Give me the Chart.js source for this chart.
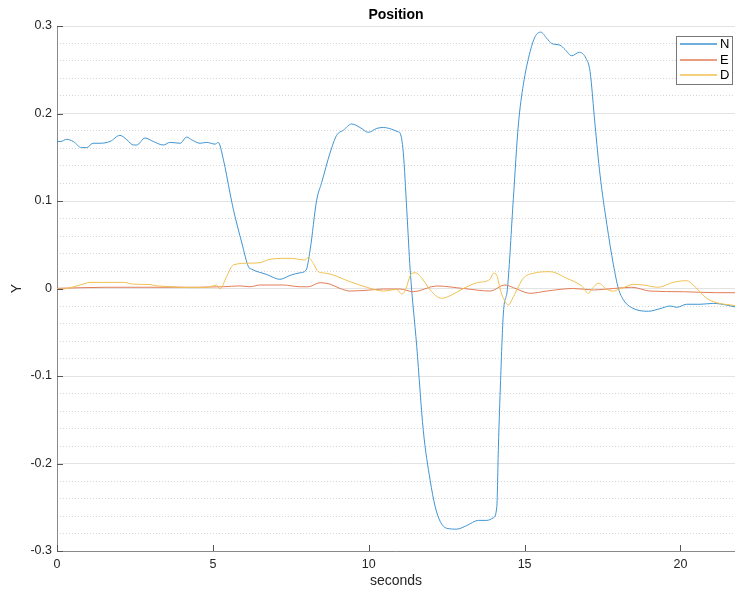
<!DOCTYPE html>
<html>
<head>
<meta charset="utf-8">
<script src="https://cdn.jsdelivr.net/npm/chart.js@4.4.0/dist/chart.umd.min.js"></script>
<style>
  html, body { margin: 0; padding: 0; background: #fff; }
</style>
</head>
<body>
<canvas id="myChart" width="735" height="591"></canvas>
<script>
// time axis (seconds) and position values
var nX = [0, 0.12, 0.31, 0.52, 0.79, 0.95, 1.16, 1.38, 1.70, 2.02, 2.24, 2.45, 2.56, 2.82, 3.09, 3.41, 3.63, 3.95, 4.16, 4.32, 4.59, 4.80, 5.07, 5.17, 5.34, 5.55, 5.66, 5.93, 6.14, 6.25, 6.73, 7.15, 7.48, 7.80, 7.99, 8.12, 8.33, 8.49, 8.76, 8.97, 9.19, 9.45, 9.72, 9.99, 10.26, 10.47, 10.74, 10.95, 11.0, 11.11, 11.22, 11.33, 11.54, 11.75, 11.97, 12.13, 12.29, 12.50, 12.82, 13.14, 13.52, 13.79, 14.0, 14.11, 14.16, 14.23, 14.32, 14.45, 14.64, 14.80, 14.96, 15.18, 15.34, 15.52, 15.71, 15.87, 16.14, 16.30, 16.51, 16.76, 16.97, 17.10, 17.26, 17.42, 17.64, 17.85, 18.01, 18.17, 18.44, 18.97, 19.35, 19.67, 19.88, 20.2, 20.63, 21.06, 21.49, 21.75];
var nY = [0.168, 0.168, 0.1705, 0.168, 0.161, 0.161, 0.166, 0.166, 0.168, 0.175, 0.170, 0.164, 0.164, 0.172, 0.168, 0.164, 0.167, 0.166, 0.173, 0.170, 0.166, 0.167, 0.165, 0.167, 0.147, 0.109, 0.090, 0.052, 0.025, 0.022, 0.016, 0.0105, 0.015, 0.018, 0.021, 0.044, 0.101, 0.121, 0.155, 0.175, 0.181, 0.188, 0.184, 0.1785, 0.183, 0.184, 0.182, 0.179, 0.178, 0.155, 0.090, 0.021, -0.066, -0.162, -0.219, -0.249, -0.266, -0.274, -0.275, -0.271, -0.265, -0.265, -0.262, -0.249, -0.181, -0.105, -0.028, 0.0, 0.103, 0.187, 0.233, 0.271, 0.288, 0.293, 0.286, 0.280, 0.278, 0.273, 0.266, 0.270, 0.263, 0.248, 0.187, 0.130, 0.073, 0.027, 0.0, -0.013, -0.022, -0.026, -0.023, -0.020, -0.0215, -0.018, -0.018, -0.017, -0.019, -0.021];

var eX = [0, 1.6, 3.73, 5.33, 5.87, 6.19, 6.51, 7.26, 7.80, 8.06, 8.44, 8.76, 9.08, 9.40, 9.94, 10.47, 11.0, 11.43, 12.18, 13.04, 13.89, 14.37, 14.64, 15.18, 15.71, 16.57, 17.21, 17.85, 18.44, 19.02, 20.09, 21.16, 21.75];
var eY = [0.0002, 0.0014, 0.0014, 0.002, 0.003, 0.002, 0.004, 0.004, 0.002, 0.002, 0.0066, 0.005, 0.0, -0.0029, -0.002, -0.0006, -0.0006, -0.0037, 0.0029, 0.0, -0.0029, 0.004, 0.001, -0.0055, -0.0029, 0.0, -0.0017, 0.0, 0.0014, -0.0029, -0.0037, -0.0048, -0.0048];

var dX = [0, 0.10, 0.31, 0.74, 1.06, 2.13, 2.45, 2.98, 3.2, 3.73, 4.27, 4.80, 5.01, 5.12, 5.23, 5.44, 5.66, 6.19, 6.51, 6.83, 7.48, 7.96, 8.06, 8.22, 8.38, 8.65, 9.40, 9.94, 10.47, 10.90, 11.06, 11.16, 11.38, 11.49, 11.75, 11.97, 12.34, 12.66, 13.04, 13.47, 13.89, 14.0, 14.11, 14.21, 14.32, 14.48, 14.64, 14.96, 15.28, 15.82, 16.35, 16.83, 17.05, 17.15, 17.37, 17.64, 17.85, 18.01, 18.17, 18.49, 18.81, 19.29, 19.77, 20.2, 20.41, 20.84, 21.16, 21.75];
var dY = [0.0, -0.001, 0.0, 0.004, 0.007, 0.007, 0.005, 0.0045, 0.003, 0.002, 0.001, 0.0014, 0.003, 0.004, -0.0005, 0.0135, 0.027, 0.029, 0.0295, 0.0334, 0.0345, 0.0326, 0.0357, 0.0288, 0.0192, 0.0174, 0.0078, 0.0014, -0.0029, -0.001, -0.0063, -0.003, 0.0174, 0.018, 0.0097, -0.0017, -0.0112, -0.0074, 0.0, 0.0066, 0.0105, 0.0174, 0.015, 0.0002, -0.0112, -0.0189, -0.0094, 0.0117, 0.0174, 0.0192, 0.0117, 0.0029, -0.0055, -0.001, 0.006, -0.001, -0.003, -0.001, 0.001, 0.0048, 0.004, 0.0014, 0.0071, 0.0089, 0.004, -0.0112, -0.0162, -0.0195];

var seriesNames = ['N', 'E', 'D'];
var xMax = 21.75;

function toPoints(xs, ys) {
  return xs.map(function(x, i){ return {x: x, y: ys[i]}; });
}

var FONT = '"Liberation Sans", Arial, sans-serif';

// matlab-ish inward tick marks + boxed legend
var matlabBits = {
  id: 'matlabBits',
  afterDraw: function(chart) {
    var ctx = chart.ctx, a = chart.chartArea;
    var xs = chart.scales.x, ys = chart.scales.y;
    ctx.save();
    ctx.strokeStyle = '#555';
    ctx.lineWidth = 1;
    ctx.beginPath();
    xs.ticks.forEach(function(t){
      var px = Math.round(xs.getPixelForValue(t.value)) + 0.5;
      ctx.moveTo(px, a.bottom);
      ctx.lineTo(px, a.bottom - 6);
    });
    ys.ticks.forEach(function(t){
      var py = Math.round(ys.getPixelForValue(t.value)) + 0.5;
      ctx.moveTo(a.left, py);
      ctx.lineTo(a.left + 6, py);
    });
    ctx.stroke();

    var bx = a.right - 59, by = a.top + 10, bw = 56, bh = 48;
    ctx.fillStyle = '#fff';
    ctx.fillRect(bx, by, bw, bh);
    ctx.strokeStyle = '#777';
    ctx.strokeRect(bx + 0.5, by + 0.5, bw, bh);
    ctx.font = '13px ' + FONT;
    ctx.textBaseline = 'middle';
    var rows = [8, 24, 39];
    chart.data.datasets.forEach(function(ds, i){
      var y = by + rows[i];
      ctx.strokeStyle = ds.borderColor;
      ctx.lineWidth = 1.5;
      ctx.beginPath();
      ctx.moveTo(bx + 4, y);
      ctx.lineTo(bx + 41, y);
      ctx.stroke();
      ctx.fillStyle = '#000';
      ctx.fillText(ds.label, bx + 44, y + 0.5);
    });
    ctx.restore();
  }
};

var ctxDir = document.getElementById('myChart');
var lineChart = new Chart(ctxDir, {
  type: 'line',
  data: {
    datasets: [{
      label: seriesNames[0],
      data: toPoints(nX, nY),
      borderColor: '#3f94d2',
      order: 3
    }, {
      label: seriesNames[1],
      data: toPoints(eX, eY),
      borderColor: '#e27d57',
      order: 2
    }, {
      label: seriesNames[2],
      data: toPoints(dX, dY),
      borderColor: '#f0c050',
      order: 1
    }]
  },
  options: {
    responsive: false,
    animation: false,
    devicePixelRatio: 1,
    layout: { padding: 0 },
    elements: {
      point: { radius: 0 },
      line: { borderWidth: 1, cubicInterpolationMode: 'monotone', fill: false }
    },
    plugins: {
      legend: { display: false },
      tooltip: { enabled: false }
    },
    scales: {
      x: {
        type: 'linear',
        position: 'bottom',
        min: 0,
        max: xMax,
        ticks: { stepSize: 5, includeBounds: false, padding: 6, color: '#262626', font: { family: FONT, size: 12.5 } },
        grid: { display: false, drawTicks: false },
        border: { display: true, color: '#8a8a8a', width: 1 },
        title: { display: true, text: 'seconds', color: '#262626', font: { family: FONT, size: 14 }, padding: { top: 0, bottom: 1 } },
        afterFit: function(s){ s.height = 40; }
      },
      top: {
        type: 'linear',
        position: 'top',
        min: 0,
        max: xMax,
        ticks: { display: false },
        grid: { display: false, drawTicks: false },
        border: { display: false },
        title: { display: true, text: 'Position', color: '#000', font: { family: FONT, size: 14, weight: 'bold' }, padding: { top: 7, bottom: 0 } },
        afterFit: function(s){ s.height = 26; }
      },
      y: {
        type: 'linear',
        position: 'left',
        min: -0.3,
        max: 0.3,
        ticks: {
          stepSize: 0.1,
          padding: 5,
          color: '#262626',
          font: { family: FONT, size: 12.5 },
          callback: function(v){ return String(Math.round(v * 10) / 10); }
        },
        grid: { color: '#e3e3e3', drawTicks: false },
        border: { display: true, color: '#8a8a8a', width: 1 },
        title: { display: true, text: 'Y', color: '#262626', font: { family: FONT, size: 14 }, padding: { top: 9, bottom: 0 } },
        afterFit: function(s){ s.width = 57; }
      },
      yMinor: {
        type: 'linear',
        position: 'left',
        min: -0.3,
        max: 0.3,
        ticks: { display: false, stepSize: 0.02, autoSkip: false },
        grid: {
          drawTicks: false,
          color: function(c){
            var k = Math.round(c.tick.value * 50);
            return (k % 5 === 0) ? 'rgba(0,0,0,0)' : '#d6d6d6';
          }
        },
        border: { display: false, dash: [1, 2] },
        afterFit: function(s){ s.width = 0; }
      }
    }
  },
  plugins: [matlabBits]
});
</script>
</body>
</html>
